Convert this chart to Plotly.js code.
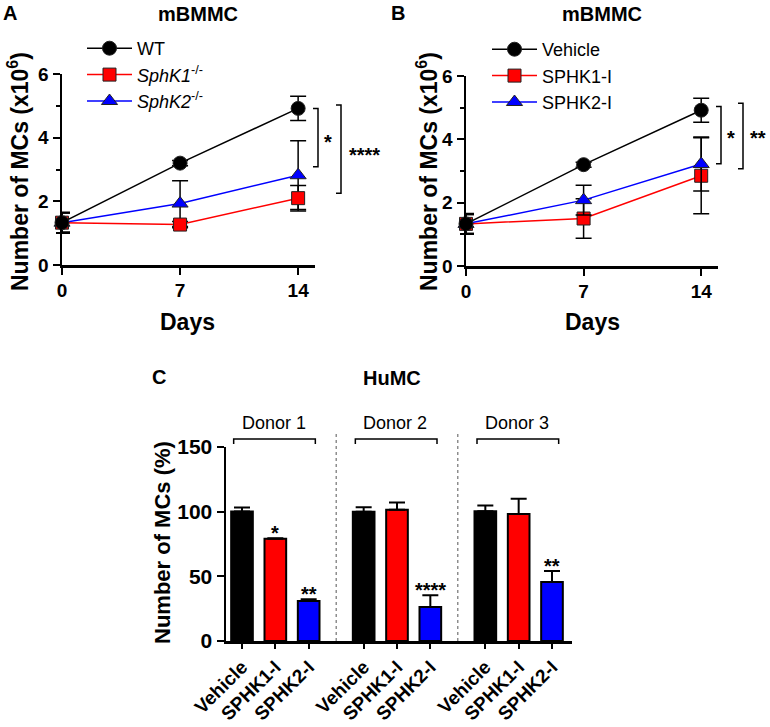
<!DOCTYPE html>
<html>
<head>
<meta charset="utf-8">
<script src="https://cdn.plot.ly/plotly-3.0.1.min.js"></script>
<style>body{margin:0;background:#fff}</style>
</head>
<body>
<div id="chart" style="width:770px;height:727px"></div>
<script>
// ---- data ----
var days = [0, 7, 14];

// panel A, knockout mBMMC (x10^6)
var wtA = [1.33, 3.2, 4.92];
var wtAErr = [0.33, 0.08, 0.38];
var k1A = [1.33, 1.27, 2.1];
var k1AErr = [0.3, 0.1, 0.4];
var k2A = [1.33, 1.93, 2.82];
var k2AErr = [0.3, 0.72, 1.08];

// panel B, inhibitor-treated mBMMC (x10^6)
var vehB = [1.33, 3.2, 4.92];
var vehBErr = [0.33, 0.08, 0.38];
var k1B = [1.33, 1.5, 2.85];
var k1BErr = [0.3, 0.62, 1.2];
var k2B = [1.33, 2.08, 3.22];
var k2BErr = [0.3, 0.47, 0.85];

// panel C, HuMC (%), one value per donor
var donors = ['Donor 1', 'Donor 2', 'Donor 3'];
var treatments = ['Vehicle', 'SPHK1-I', 'SPHK2-I'];
var vehC = [100.2, 100, 100.4];
var vehCErr = [3.1, 3.5, 4.4];
var k1C = [79, 101.5, 98.1];
var k1CErr = [0.4, 5.5, 11.9];
var k2C = [31, 26.3, 45.7];
var k2CErr = [1.3, 9.1, 8.5];
var k1CStars = ['*', '', ''];
var k2CStars = ['**', '****', '**'];

// ---- helpers ----
var FONT = 'Arial, "Liberation Sans", sans-serif';
function px(x) { return x / 770; }
function py(y) { return 1 - y / 727; }

function lineTrace(name, y, err, color, symbol, size, xa, ya, legend, rank) {
    return {
        x: days, y: y, name: name,
        xaxis: xa, yaxis: ya, legend: legend, legendrank: rank,
        type: 'scatter', mode: 'lines+markers', cliponaxis: false,
        line: {color: color, width: 1.5},
        marker: {symbol: symbol, size: size, color: color,
                 line: {color: '#222', width: 1}},
        error_y: {type: 'data', array: err, color: '#000', thickness: 1.5, width: 8}
    };
}

var data = [];
// draw order differs from legend order so markers sit on top as in the figure
data.push(lineTrace('<i>SphK2</i><sup>-/-</sup>', k2A, k2AErr, '#0000ff', 'triangle-up', 14, 'x', 'y', 'legend', 3));
data.push(lineTrace('<i>SphK1</i><sup>-/-</sup>', k1A, k1AErr, '#ff0000', 'square', 13, 'x', 'y', 'legend', 2));
data.push(lineTrace('WT', wtA, wtAErr, '#000000', 'circle', 14, 'x', 'y', 'legend', 1));

data.push(lineTrace('SPHK1-I', k1B, k1BErr, '#ff0000', 'square', 13, 'x2', 'y2', 'legend2', 2));
data.push(lineTrace('SPHK2-I', k2B, k2BErr, '#0000ff', 'triangle-up', 14, 'x2', 'y2', 'legend2', 3));
data.push(lineTrace('Vehicle', vehB, vehBErr, '#000000', 'circle', 14, 'x2', 'y2', 'legend2', 1));

// bar positions: three bars per donor, gap between donors
var groupGap = 3.65;
function pos(j) { return donors.map(function(d, g) { return g * groupGap + j; }); }
var barSets = [[vehC, vehCErr, '#000000'], [k1C, k1CErr, '#ff0000'], [k2C, k2CErr, '#0000ff']];
barSets.forEach(function(s, j) {
    data.push({
        type: 'bar', x: pos(j), y: s[0], xaxis: 'x3', yaxis: 'y3',
        width: 0.65, showlegend: false,
        marker: {color: s[2], line: {color: '#000', width: 2}},
        error_y: {type: 'data', symmetric: false, array: s[1],
                  arrayminus: s[1].map(function() { return 0; }),
                  color: '#000', thickness: 2, width: 8}
    });
});

var tickvals = [], ticktext = [];
donors.forEach(function(d, g) {
    treatments.forEach(function(t, j) { tickvals.push(g * groupGap + j); ticktext.push(t); });
});

// ---- axes ----
function baseAxis(extra) {
    var a = {
        showline: true, linecolor: '#000', linewidth: 2.5,
        ticks: 'outside', ticklen: 7, tickwidth: 2, tickcolor: '#000',
        showgrid: false, zeroline: false, fixedrange: true,
        tickfont: {family: FONT, size: 19, color: '#000', weight: 'bold'}
    };
    for (var k in extra) a[k] = extra[k];
    return a;
}
var minorY = {tickvals: [1, 3, 5], ticklen: 4, tickwidth: 2, tickcolor: '#000', showgrid: false};

var layout = {
    width: 770, height: 727, autosize: false,
    margin: {l: 0, r: 0, t: 0, b: 0},
    paper_bgcolor: '#fff', plot_bgcolor: 'rgba(0,0,0,0)',
    font: {family: FONT, color: '#000'},
    xaxis: baseAxis({domain: [px(62), px(315)], range: [0, 15], tickvals: days, anchor: 'y'}),
    yaxis: baseAxis({domain: [py(265), py(74)], range: [0, 6], tickvals: [0, 2, 4, 6], minor: minorY, anchor: 'x'}),
    xaxis2: baseAxis({domain: [px(466), px(718)], range: [0, 15], tickvals: days, anchor: 'y2'}),
    yaxis2: baseAxis({domain: [py(266), py(76)], range: [0, 6], tickvals: [0, 2, 4, 6], minor: minorY, anchor: 'x2'}),
    xaxis3: baseAxis({domain: [px(226), px(572)], range: [-0.48, 9.9], tickvals: tickvals, ticktext: ticktext,
                      tickangle: -45, ticklen: 5, anchor: 'y3',
                      tickfont: {family: FONT, size: 19, color: '#000', weight: 'bold'}}),
    yaxis3: baseAxis({domain: [py(641), py(447)], range: [0, 150], tickvals: [0, 50, 100, 150], anchor: 'x3',
                      tickfont: {family: FONT, size: 21, color: '#000', weight: 'bold'}}),
    legend: {x: px(82), y: py(30), xanchor: 'left', yanchor: 'top', bgcolor: 'rgba(0,0,0,0)', itemwidth: 45,
             font: {family: FONT, size: 18, color: '#000'}, tracegroupgap: 0},
    legend2: {x: px(487), y: py(31), xanchor: 'left', yanchor: 'top', bgcolor: 'rgba(0,0,0,0)', itemwidth: 45,
              font: {family: FONT, size: 18, color: '#000'}, tracegroupgap: 0},
    shapes: [],
    annotations: []
};

function note(text, x, y, size, bold, extra) {
    var a = {text: text, x: x, y: y, xref: 'paper', yref: 'paper', showarrow: false,
             xanchor: 'center', yanchor: 'middle',
             font: {family: FONT, size: size, color: '#000', weight: bold ? 'bold' : 'normal'}};
    for (var k in extra) a[k] = extra[k];
    layout.annotations.push(a);
}

// titles and panel letters
note('A', px(10), py(13), 20, true);
note('mBMMC', px(198), py(14), 20, true);
note('B', px(398), py(13), 20, true);
note('mBMMC', px(602), py(14), 20, true);
note('C', px(159), py(377), 20, true);
note('HuMC', px(392), py(378), 20, true);

// axis titles
note('Days', px(187), py(322), 23, true);
note('Days', px(592), py(322), 23, true);
note('Number of MCs (x10<sup>6</sup>)', px(18), py(172), 23, true, {textangle: -90});
note('Number of MCs (x10<sup>6</sup>)', px(427), py(172), 23, true, {textangle: -90});
note('Number of MCs (%)', px(162), py(543), 22, true, {textangle: -90});

// significance brackets for A and B (x in paper, y in data)
function bracket(xLine, yref, yTop, yBot, stars, xText, yText) {
    layout.shapes.push({
        type: 'path', xref: 'paper', yref: yref,
        path: 'M' + px(xLine - 5) + ',' + yTop + ' L' + px(xLine) + ',' + yTop +
              ' L' + px(xLine) + ',' + yBot + ' L' + px(xLine - 5) + ',' + yBot,
        line: {color: '#000', width: 1.5}
    });
    layout.annotations.push({
        text: stars, x: px(xText), y: yText, xref: 'paper', yref: yref,
        showarrow: false, xanchor: 'center', yanchor: 'middle',
        font: {family: FONT, size: 20, color: '#000', weight: 'bold'}
    });
}
bracket(318, 'y', 4.92, 3.09, '*', 328, 3.85);
bracket(341, 'y', 5.03, 2.25, '****', 364, 3.45);
bracket(721, 'y2', 5.04, 3.23, '*', 731, 4.05);
bracket(743, 'y2', 5.14, 3.07, '**', 758, 4.05);

// panel C: dashed separators, donor brackets and labels
for (var g = 1; g < donors.length; g++) {
    var xm = (g - 1) * groupGap + 2 + (groupGap - 2) / 2;
    layout.shapes.push({type: 'line', xref: 'x3', yref: 'paper', x0: xm, x1: xm,
                        y0: py(641), y1: py(434), line: {color: '#555', width: 1, dash: 'dot'}});
}
donors.forEach(function(d, g) {
    var x0 = g * groupGap - 0.25, x1 = g * groupGap + 2.2;
    layout.shapes.push({type: 'path', xref: 'x3', yref: 'paper',
        path: 'M' + x0 + ',' + py(444) + ' L' + x0 + ',' + py(439) + ' L' + x1 + ',' + py(439) + ' L' + x1 + ',' + py(444),
        line: {color: '#000', width: 1.5}});
    note(d, g * groupGap + 0.95, py(423), 18, false, {xref: 'x3'});
});

// stars above HuMC bars
function barStars(vals, errs, stars, j) {
    var xs = pos(j);
    stars.forEach(function(s, g) {
        if (!s) return;
        layout.annotations.push({
            text: s, x: xs[g], y: vals[g] + errs[g] + 4, xref: 'x3', yref: 'y3',
            showarrow: false, xanchor: 'center', yanchor: 'middle',
            font: {family: FONT, size: 20, color: '#000', weight: 'bold'}
        });
    });
}
barStars(k1C, k1CErr, k1CStars, 1);
barStars(k2C, k2CErr, k2CStars, 2);

Plotly.newPlot('chart', data, layout, {staticPlot: true, displayModeBar: false});
</script>
</body>
</html>
